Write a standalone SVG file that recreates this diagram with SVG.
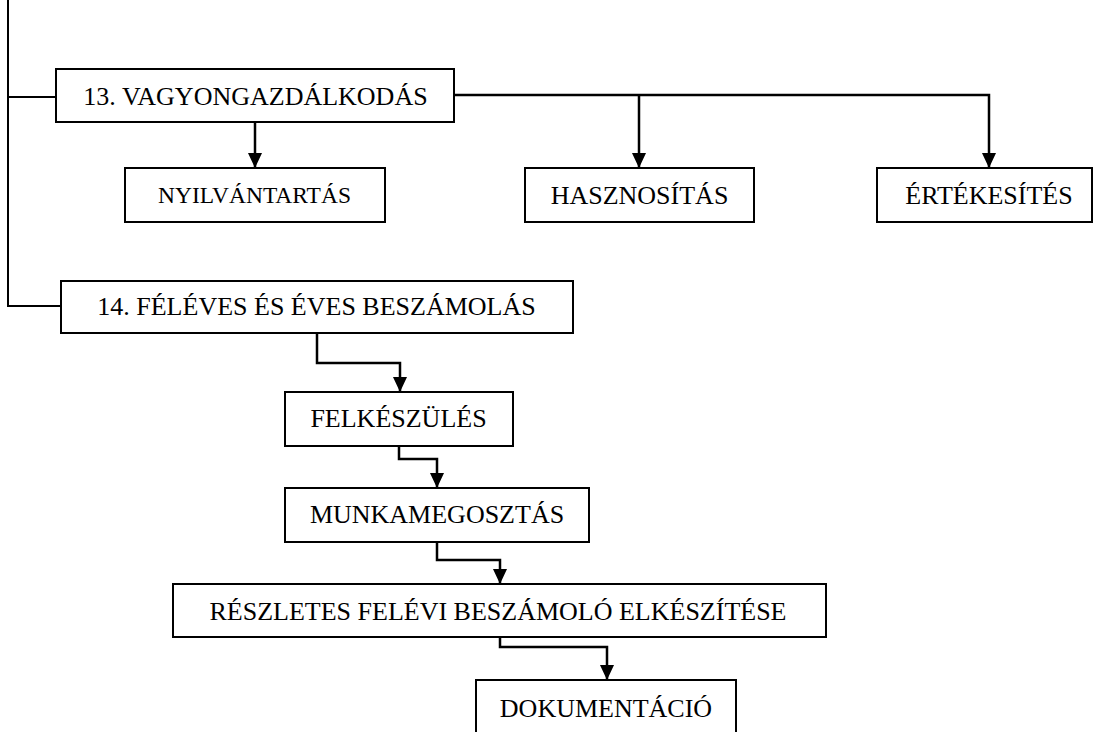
<svg xmlns="http://www.w3.org/2000/svg" width="1093" height="732" viewBox="0 0 1093 732">
<style>
.box{fill:#fff;stroke:#000;stroke-width:2}
.lbl{font-family:"Liberation Serif","Times New Roman",serif;font-size:26px;fill:#000;text-anchor:middle}
.c{fill:none;stroke:#000;stroke-width:2.5}
.t{fill:none;stroke:#000;stroke-width:2}
</style>
<defs>
<marker id="ah" markerUnits="userSpaceOnUse" markerWidth="16" markerHeight="16" viewBox="0 0 16 16" refX="15" refY="7" orient="auto">
<path d="M0,0 L15,7 L0,14 Z" fill="#000"/>
</marker>
</defs>
<rect width="1093" height="732" fill="#fff"/>
<g id="connectors">
<path class="t" d="M8,0 V306 H61 M8,97 H56"/>
<path class="c" d="M255,122 V168" marker-end="url(#ah)"/>
<path class="c" d="M454,95 H989 V168" marker-end="url(#ah)"/>
<path class="c" d="M639,95 V168" marker-end="url(#ah)"/>
<path class="c" d="M317,333 V363 H400 V392" marker-end="url(#ah)"/>
<path class="c" d="M399,446 V459 H437 V488" marker-end="url(#ah)"/>
<path class="c" d="M437,542 V560 H500 V584" marker-end="url(#ah)"/>
<path class="c" d="M500,637 V647 H607 V680" marker-end="url(#ah)"/>
</g>
<g id="n13">
<rect class="box" x="56" y="69" width="398" height="53"/>
<text class="lbl" x="255.5" y="105">13. VAGYONGAZDÁLKODÁS</text>
</g>
<g id="nyilvantartas">
<rect class="box" x="125" y="168" width="260" height="54"/>
<text class="lbl" x="254.5" y="203" style="font-size:23.5px">NYILVÁNTARTÁS</text>
</g>
<g id="hasznositas">
<rect class="box" x="525" y="168" width="229" height="54"/>
<text class="lbl" x="639.5" y="204">HASZNOSÍTÁS</text>
</g>
<g id="ertekesites">
<rect class="box" x="877" y="168" width="215" height="54"/>
<text class="lbl" x="989" y="204">ÉRTÉKESÍTÉS</text>
</g>
<g id="n14">
<rect class="box" x="61" y="281" width="512" height="52"/>
<text class="lbl" x="316.5" y="315">14. FÉLÉVES ÉS ÉVES BESZÁMOLÁS</text>
</g>
<g id="felkeszules">
<rect class="box" x="285" y="392" width="228" height="54"/>
<text class="lbl" x="398.5" y="427">FELKÉSZÜLÉS</text>
</g>
<g id="munkamegosztas">
<rect class="box" x="285" y="488" width="304" height="54"/>
<text class="lbl" x="437" y="523">MUNKAMEGOSZTÁS</text>
</g>
<g id="reszletes">
<rect class="box" x="173" y="584" width="653" height="53"/>
<text class="lbl" x="498" y="620">RÉSZLETES FELÉVI BESZÁMOLÓ ELKÉSZÍTÉSE</text>
</g>
<g id="dokumentacio">
<path class="t" d="M476,734 V680 H736 V734"/>
<text class="lbl" x="606" y="717">DOKUMENTÁCIÓ</text>
</g>
</svg>
